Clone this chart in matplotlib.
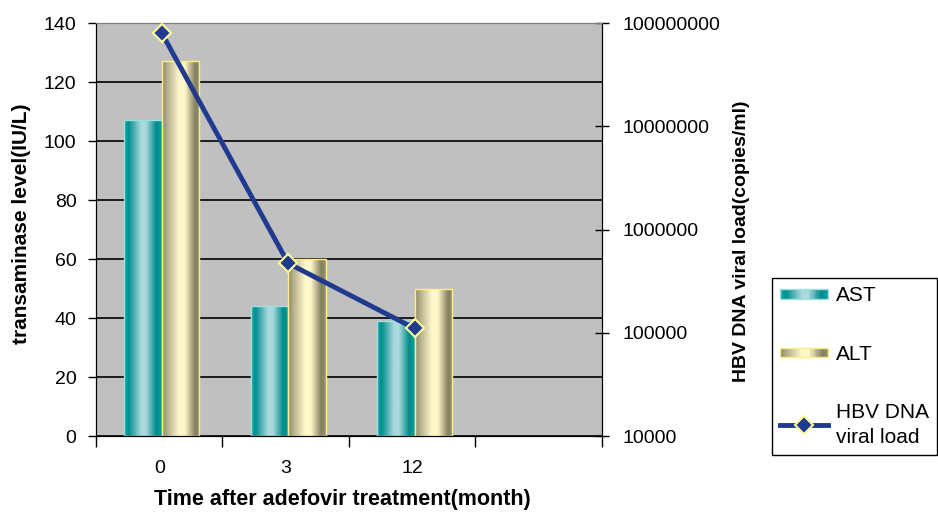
import numpy as np
import matplotlib.pyplot as plt
from matplotlib.colors import LinearSegmentedColormap
from matplotlib.patches import Rectangle
from matplotlib.lines import Line2D
from matplotlib.legend_handler import HandlerBase
from matplotlib.ticker import FixedLocator, NullLocator, FuncFormatter

plt.rcParams['font.family'] = ['Liberation Sans', 'DejaVu Sans']

# data
months = ['0', '3', '12', '']
ast = [107, 44, 39]
alt = [127, 60, 50]
hbv = [8.0e7, 4.7e5, 1.1e5]

ast_cmap = LinearSegmentedColormap.from_list('ast', [
    (0, '#1aa8a8'), (0.12, '#008f8f'), (0.45, '#a9d9dd'), (0.58, '#a9d9dd'),
    (0.85, '#008a8a'), (1, '#10a0a0')])
alt_cmap = LinearSegmentedColormap.from_list('alt', [
    (0, '#8a866c'), (0.15, '#b8b38e'), (0.45, '#fff8cc'), (0.6, '#fff6c8'),
    (0.88, '#847e62'), (1, '#9a9474')])
ast_edge = '#9fe0e0'
alt_edge = '#ffef80'
line_col = '#1f3a8f'

fig = plt.figure(figsize=(9.38, 5.16), dpi=100)
ax = fig.add_axes([0.1023, 0.155, 0.5395, 0.8004])
ax.set_facecolor('#c0c0c0')

x = np.arange(len(ast))
w = 0.295


def gradient_bars(xs, vals, cmap, edge):
    bars = ax.bar(xs, vals, w, facecolor='none', edgecolor=edge, linewidth=1, zorder=3)
    grad = np.linspace(0, 1, 256).reshape(1, -1)
    for b in bars:
        x0, y0 = b.get_x(), b.get_y()
        im = ax.imshow(grad, cmap=cmap, aspect='auto', interpolation='bilinear',
                       extent=(x0, x0 + b.get_width(), y0, y0 + b.get_height()), zorder=2.5)
        im.set_clip_path(b)
    return bars


gradient_bars(x - w / 2 + 0.02, ast, ast_cmap, ast_edge)
gradient_bars(x + w / 2 + 0.02, alt, alt_cmap, alt_edge)

ax.set_xlim(-0.5, 3.5)
ax.set_ylim(0, 140)
ax.set_yticks(np.arange(0, 141, 20))
ax.yaxis.grid(True, color='black', lw=1.2)
ax.set_axisbelow(True)
ax.tick_params(axis='y', direction='out', length=6, width=1, labelsize=14, pad=8)
ax.set_xticks(np.arange(len(months)))
ax.set_xticklabels(months)
ax.xaxis.set_minor_locator(FixedLocator(np.arange(-0.5, 3.6, 1)))
ax.tick_params(axis='x', which='major', length=0, labelsize=14, pad=17)
ax.tick_params(axis='x', which='minor', length=8, width=1, direction='out')
ax.spines['top'].set_color('#808080')

ax2 = ax.twinx()
ax2.set_yscale('log')
ax2.set_ylim(1e4, 1e8)
ax2.yaxis.set_minor_locator(NullLocator())
ax2.yaxis.set_major_formatter(FuncFormatter(lambda v, p: f'{v:.0f}'))
ax2.tick_params(axis='y', direction='inout', length=10, width=1, labelsize=14, pad=10)
ax2.spines['top'].set_color('#808080')
ax2.plot(x + 0.02, hbv, color=line_col, lw=3.5, marker='D', markersize=9,
         markerfacecolor=line_col, markeredgecolor='#ffff99', markeredgewidth=1.5, zorder=5)

fig.text(342 / 938, 1 - 500 / 516, 'Time after adefovir treatment(month)',
         ha='center', va='center', fontsize=15.5, fontweight='bold')
fig.text(22 / 938, 1 - 224 / 516, 'transaminase level(IU/L)', rotation=90,
         ha='center', va='center', fontsize=15, fontweight='bold')
fig.text(742 / 938, 1 - 241 / 516, 'HBV DNA viral load(copies/ml)', rotation=90,
         ha='center', va='center', fontsize=14, fontweight='bold')


class GradHandler(HandlerBase):
    def __init__(self, cmap, edge):
        super().__init__()
        self.cmap = cmap
        self.edge = edge

    def create_artists(self, legend, orig_handle, xdescent, ydescent, width, height, fontsize, trans):
        n = 40
        h = height * 0.65
        y0 = -ydescent + (height - h) / 2
        arts = []
        for i in range(n):
            arts.append(Rectangle((-xdescent + width * i / n, y0), width / n, h,
                                  facecolor=self.cmap((i + 0.5) / n), edgecolor='none', transform=trans))
        arts.append(Rectangle((-xdescent, y0), width, h, facecolor='none',
                              edgecolor=self.edge, lw=1, transform=trans))
        return arts


h_ast = Rectangle((0, 0), 1, 1)
h_alt = Rectangle((0, 0), 1, 1)
h_hbv = Line2D([], [], color=line_col, lw=3.5, marker='D', markersize=9,
               markerfacecolor=line_col, markeredgecolor='#ffff99', markeredgewidth=1.5)
leg = fig.legend([h_ast, h_alt, h_hbv], ['AST', 'ALT', 'HBV DNA\nviral load'],
                 handler_map={h_ast: GradHandler(ast_cmap, ast_edge),
                              h_alt: GradHandler(alt_cmap, alt_edge)},
                 loc='upper left', bbox_to_anchor=(772 / 938, 1 - 278 / 516),
                 borderaxespad=0, fontsize=15, frameon=True, fancybox=False,
                 framealpha=1, edgecolor='black', borderpad=0.4, handlelength=2.3,
                 handletextpad=0.35, labelspacing=1.9, numpoints=1)
leg.get_frame().set_linewidth(1)
for t in leg.get_texts():
    t.set_linespacing(1.35)

fig.savefig('out.png', dpi=100)
